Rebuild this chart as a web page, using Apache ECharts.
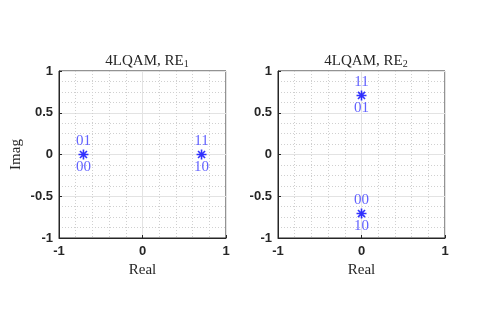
<!DOCTYPE html>
<html>
<head>
<meta charset="utf-8">
<script src="https://cdn.jsdelivr.net/npm/echarts@6/dist/echarts.min.js"></script>
<style>
  html, body { margin: 0; padding: 0; background: #fff; }
  #main { width: 479px; height: 321px; }
</style>
</head>
<body>
<div id="main"></div>
<script>
// constellation points of each resource element
var re1Points = [[-0.7071, 0], [0.7071, 0]];
var re1Upper = ['01', '11'];
var re1Lower = ['00', '10'];
var re2Points = [[0, 0.7071], [0, -0.7071]];
var re2Upper = ['11', '00'];
var re2Lower = ['01', '10'];
var titles = ['4LQAM, RE', '4LQAM, RE'];
var subs = ['1', '2'];

// asterisk marker, four thick bars
var star = 'path://M-10,-1.6L10,-1.6L10,1.6L-10,1.6Z' +
    'M-1.6,-10L1.6,-10L1.6,10L-1.6,10Z' +
    'M-8.2,-5.9L-5.9,-8.2L8.2,5.9L5.9,8.2Z' +
    'M5.9,-8.2L8.2,-5.9L-5.9,8.2L-8.2,5.9Z';

var serif = 'Liberation Serif';
var blue = '#0000ff';
var labelBlue = '#3a3aff';

function makeAxis(idx, isX, withName) {
    let ax = {
        gridIndex: idx,
        type: 'value',
        min: -1,
        max: 1,
        interval: isX ? 1 : 0.5,
        axisLine: {show: true, onZero: false, lineStyle: {color: '#262626', width: 1}},
        axisTick: {show: true, inside: true, length: 3, lineStyle: {color: '#262626'}},
        axisLabel: {
            color: '#262626', fontWeight: 'bold', fontSize: 13,
            fontFamily: 'Liberation Sans', margin: isX ? 7 : 6
        },
        splitLine: {show: true, lineStyle: {color: '#e3e3e3', width: 1}},
        minorTick: {show: false, splitNumber: isX ? 5 : 4},
        minorSplitLine: {show: true, lineStyle: {color: '#d0d0d0', type: [1, 2], width: 1}}
    };
    if (withName) {
        ax.name = isX ? 'Real' : 'Imag';
        ax.nameLocation = 'middle';
        ax.nameGap = isX ? 24 : 35;
        ax.nameTextStyle = {fontFamily: serif, fontSize: 15, color: '#262626'};
    }
    return ax;
}

function markSeries(idx, pts, texts) {
    return {
        type: 'scatter',
        xAxisIndex: idx,
        yAxisIndex: idx,
        data: pts,
        symbol: star,
        symbolSize: 10,
        itemStyle: {color: blue},
        label: {
            show: true, position: 'top', distance: 1,
            color: labelBlue, fontFamily: serif, fontSize: 15,
            formatter: function (p) { return texts[p.dataIndex]; }
        },
        z: 5
    };
}

function lowerSeries(idx, pts, texts) {
    return {
        type: 'scatter',
        xAxisIndex: idx,
        yAxisIndex: idx,
        data: pts,
        symbol: 'rect',
        symbolSize: 10,
        itemStyle: {color: 'rgba(0,0,0,0)'},
        label: {
            show: true, position: 'bottom', distance: 0,
            color: labelBlue, fontFamily: serif, fontSize: 15,
            formatter: function (p) { return texts[p.dataIndex]; }
        },
        z: 4
    };
}

var chart = echarts.init(document.getElementById('main'));
var option = {
    animation: false,
    backgroundColor: '#fff',
    title: [0, 1].map(function (i) {
        return {
            text: titles[i] + '{s|' + subs[i] + '}',
            left: i === 0 ? 142 : 361,
            top: 48,
            textAlign: 'center',
            textStyle: {
                fontFamily: serif, fontSize: 15, fontWeight: 'normal', color: '#262626',
                rich: {s: {fontFamily: serif, fontSize: 10, color: '#262626', padding: [6, 0, 0, 0]}}
            }
        };
    }),
    grid: [
        {left: 59, top: 71, width: 167, height: 167, show: true, borderColor: '#262626', borderWidth: 1},
        {left: 278, top: 71, width: 167, height: 167, show: true, borderColor: '#262626', borderWidth: 1}
    ],
    xAxis: [makeAxis(0, true, true), makeAxis(1, true, true)],
    yAxis: [makeAxis(0, false, true), makeAxis(1, false, false)],
    series: [
        markSeries(0, re1Points, re1Upper),
        lowerSeries(0, re1Points, re1Lower),
        markSeries(1, re2Points, re2Upper),
        lowerSeries(1, re2Points, re2Lower)
    ]
};
chart.setOption(option);
</script>
</body>
</html>
